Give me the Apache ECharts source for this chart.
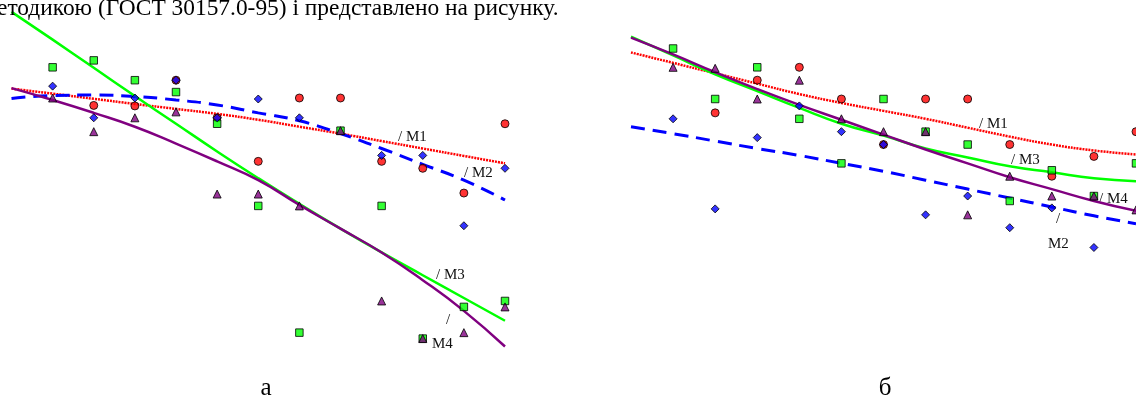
<!DOCTYPE html>
<html><head><meta charset="utf-8">
<script src="https://cdn.jsdelivr.net/npm/echarts@6/dist/echarts.min.js"></script>
<style>html,body{margin:0;padding:0;background:#fff}#c{width:1136px;height:396px}</style>
</head><body><div id="c"></div>
<script>
// x positions (measurement index); lines span 0..12, points 1..12
const lineX = [0,1,2,3,4,5,6,7,8,9,10,11,12];
const pointX = [1,2,3,4,5,6,7,8,9,10,11,12];

// ---- Panel а ----
const aM1 = [31.05,30.54,30.02,29.5,29.0,28.5,27.9,27.2,26.5,25.75,25.0,24.25,23.5];
const aM2 = [30.05,30.35,30.4,30.25,29.9,29.4,28.6,27.8,26.5,25.0,23.4,21.8,19.8];
const aM3 = [38.8,36.0,33.15,30.3,27.5,24.7,22.0,19.4,16.9,14.5,12.2,9.9,7.6];
const aM4 = [31.1,29.9,28.6,27.2,25.5,23.7,21.8,19.3,16.9,14.5,11.7,8.6,5.0];
const aRed    = [null,29.35,29.3,31.9,28.1,23.7,30.1,30.1,23.7,23.0,20.5,27.5];
const aBlue   = [31.3,28.1,30.1,31.9,28.1,30.0,28.1,null,24.3,24.3,17.2,23.0];
const aGreen  = [33.2,33.9,31.9,30.7,27.5,19.2,6.4,26.8,19.2,5.8,9.0,9.6];
const aPurple = [30.1,26.7,28.1,28.7,20.4,20.4,19.2,26.8,9.6,5.8,6.4,9.0];

// ---- Panel б ----
const bM1 = [34.7,33.65,32.6,31.55,30.5,29.6,28.8,28.0,27.1,26.2,25.4,24.8,24.4];
const bM2 = [27.2,26.5,25.75,25.0,24.3,23.5,22.7,21.8,20.9,20.0,19.1,18.2,17.4];
const bM3 = [36.3,34.4,32.5,30.8,29.1,27.5,26.3,25.0,24.1,23.2,22.6,22.0,21.7];
const bM4 = [36.2,34.5,32.7,31.0,29.4,27.9,26.4,24.9,23.5,22.1,20.9,19.7,18.7];
const bRed    = [null,28.6,31.9,33.2,30.0,25.4,30.0,30.0,25.4,22.2,24.2,26.7];
const bBlue   = [28.0,18.9,26.1,29.3,26.7,25.4,18.3,20.2,17.0,19.0,15.0,null];
const bGreen  = [35.1,30.0,33.2,28.0,23.5,30.0,26.7,25.4,19.7,22.8,20.2,23.5];
const bPurple = [33.2,33.1,30.0,31.9,28.0,26.7,26.7,18.3,22.2,20.2,20.2,18.8];

const topText = 'етодикою (ГОСТ 30157.0-95) і представлено на рисунку.';
const captions = ['а', 'б'];
const lineNames = ['M1','M2','M3','M4'];

const SERIF = "'Liberation Serif','Times New Roman',serif";
const pair = (xs, ys) => xs.map((x,i)=>[x, ys[i]]).filter(p=>p[1]!==null);

function lines(idx, m1, m2, m3, m4){
  const mk = (name, d, color, width, type) => ({
    type:'line', name, xAxisIndex:idx, yAxisIndex:idx, data:pair(lineX,d),
    smooth:true, showSymbol:false, silent:true, z:2,
    lineStyle:{color, width, type}
  });
  return [
    mk('M1', m1, '#ff0000', 2.5, [2,1]),
    mk('M2', m2, '#0000ff', 3, [14,8]),
    mk('M3', m3, '#00ff00', 2.5, 'solid'),
    mk('M4', m4, '#800080', 2.5, 'solid')
  ];
}
function points(idx, red, blue, green, purple){
  const mk = (d, symbol, color, size) => ({
    type:'scatter', xAxisIndex:idx, yAxisIndex:idx, data:pair(pointX,d),
    symbol, symbolSize:size, silent:true, z:3,
    itemStyle:{color, borderColor:'#000', borderWidth:1}
  });
  return [
    mk(red,'circle','#ff0000',8),
    mk(green,'rect','#00ff00',7.5),
    mk(purple,'triangle','#800080',8),
    mk(blue,'diamond','#0000ff',8)
  ];
}

const lbl = (x, y, text, extra) => ({
  type:'text', x, y, silent:true,
  style:Object.assign({text, font:'15px '+SERIF, fill:'#111', verticalAlign:'middle'}, extra||{})
});

const chart = echarts.init(document.getElementById('c'), null, {renderer:'canvas'});
chart.setOption({
  animation:false,
  backgroundColor:'#fff',
  grid:[
    {left:11.5, width:493.5, top:0, height:400},
    {left:631, width:505, top:0, height:400}
  ],
  xAxis:[0,1].map(i=>({type:'value', gridIndex:i, min:0, max:12, show:false})),
  yAxis:[0,1].map(i=>({type:'value', gridIndex:i, min:0, max:40, show:false})),
  series:[
    ...lines(0,aM1,aM2,aM3,aM4),
    ...points(0,aRed,aBlue,aGreen,aPurple),
    ...lines(1,bM1,bM2,bM3,bM4),
    ...points(1,bRed,bBlue,bGreen,bPurple)
  ],
  graphic:[
    {type:'text', x:-3, y:9, silent:true, z:10, style:{text:topText, font:'23.4px '+SERIF, fill:'#000', verticalAlign:'middle'}},
    {type:'text', x:266, y:388, silent:true, style:{text:captions[0], font:'25px '+SERIF, fill:'#000', align:'center', verticalAlign:'middle'}},
    {type:'text', x:885, y:388, silent:true, style:{text:captions[1], font:'25px '+SERIF, fill:'#000', align:'center', verticalAlign:'middle'}},
    // panel а labels
    lbl(398,137,'/ '+lineNames[0]),
    lbl(464,173,'/ '+lineNames[1]),
    lbl(436,275,'/ '+lineNames[2]),
    lbl(446,320,'/'),
    lbl(432,344,lineNames[3]),
    // panel б labels
    lbl(979,124,'/ '+lineNames[0]),
    lbl(1011,160,'/ '+lineNames[2]),
    lbl(1099,199,'/ '+lineNames[3]),
    lbl(1056,219,'/'),
    lbl(1048,244,lineNames[1])
  ]
});
</script></body></html>
